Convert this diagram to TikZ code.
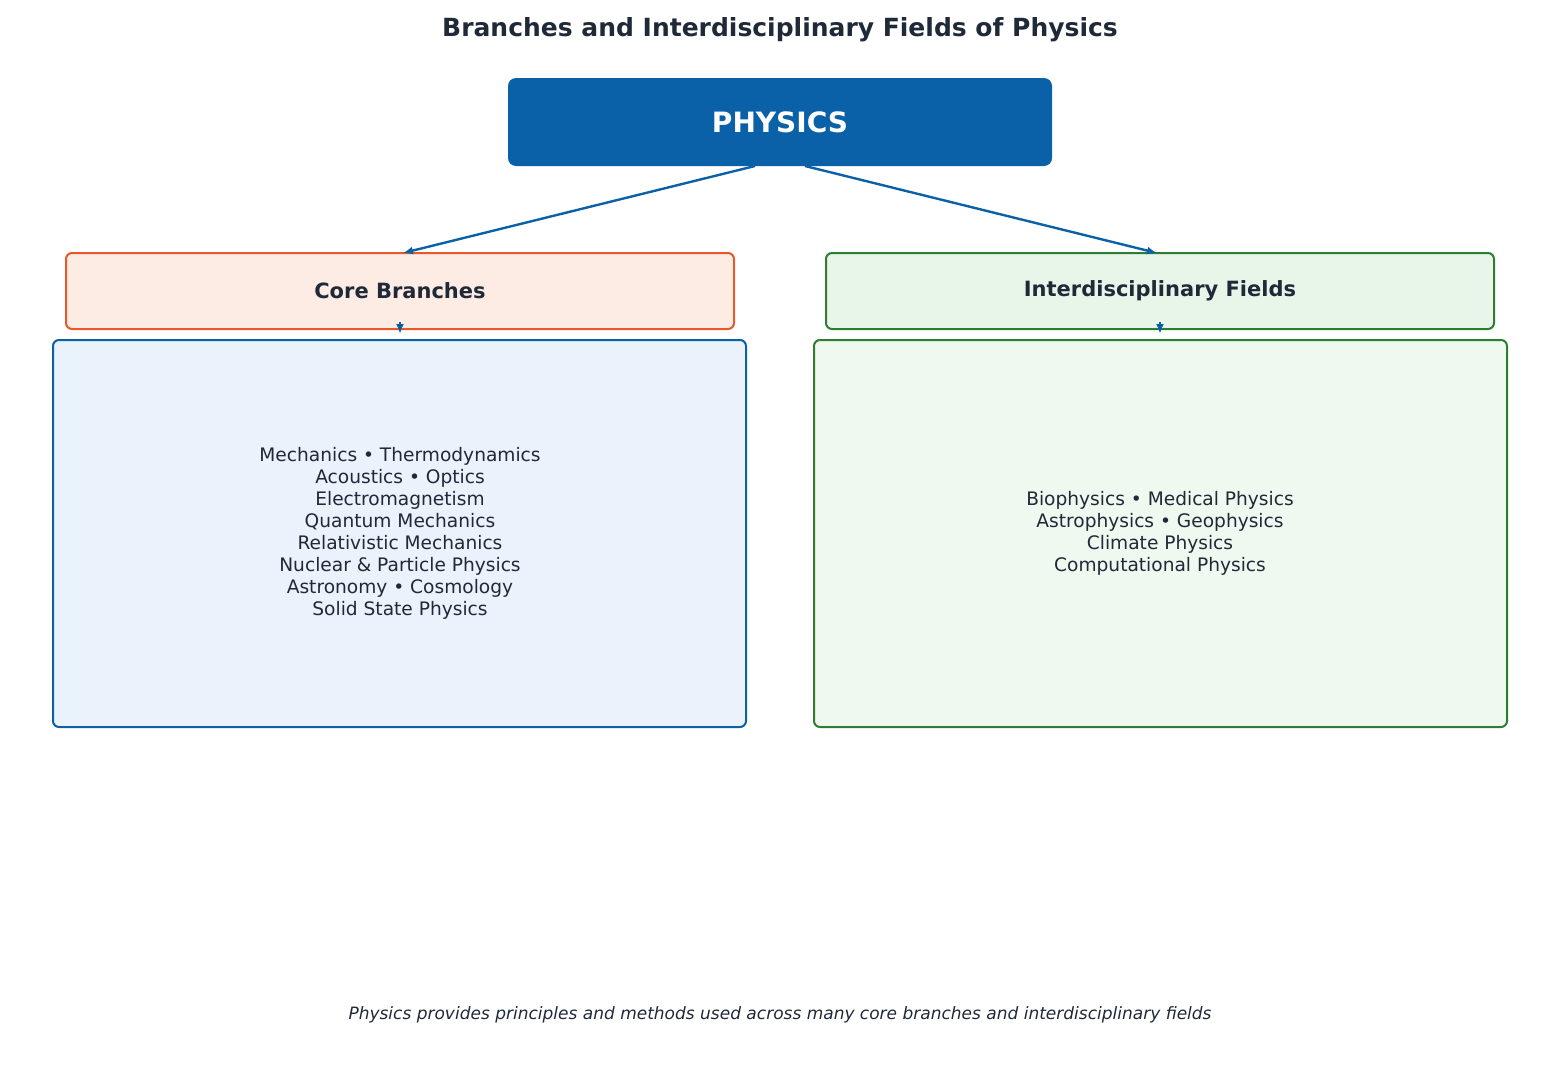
\documentclass[tikz,border=0pt]{standalone}
\usepackage{fontspec}
\setmainfont{DejaVu Sans}
\usetikzlibrary{arrows.meta}
\definecolor{navy}{HTML}{0B61A8}
\definecolor{txt}{HTML}{1F2937}
\definecolor{orng}{HTML}{E8582A}
\definecolor{orbg}{HTML}{FDECE4}
\definecolor{grn}{HTML}{2E7D32}
\definecolor{grbg}{HTML}{E8F5E9}
\definecolor{grbg2}{HTML}{F0F9F0}
\definecolor{blbg}{HTML}{EAF2FB}
\begin{document}
\begin{tikzpicture}[x=0.5pt,y=-0.5pt,
 box/.style={draw,line width=1pt,rounded corners=3pt},
 arr/.style={draw=navy,line width=1.2pt,-{Latex[length=5pt,width=4pt]}},
 body/.style={text=txt,font=\fontsize{9.3}{11}\selectfont,align=center}]
\useasboundingbox (0,0) rectangle (1560,1092);
\node[text=txt,font=\bfseries\fontsize{12.5}{15}\selectfont] (title) at (780,30) {Branches and Interdisciplinary Fields of Physics};
\fill[navy,rounded corners=4pt] (508,78) rectangle (1052,166);
\node[text=white,font=\bfseries\fontsize{14}{17}\selectfont] (phys) at (780,122) {PHYSICS};
\draw[box,draw=orng,fill=orbg] (66,253) rectangle (734,329);
\node[text=txt,font=\bfseries\fontsize{10.5}{13}\selectfont] (core) at (400,291) {Core Branches};
\draw[box,draw=grn,fill=grbg] (826,253) rectangle (1494,329);
\node[text=txt,font=\bfseries\fontsize{10.5}{13}\selectfont] (inter) at (1160,291) {Interdisciplinary Fields};
\draw[box,draw=navy,fill=blbg] (53,340) rectangle (746,727);
\node[body] (corel) at (400,533) {Mechanics • Thermodynamics\\Acoustics • Optics\\Electromagnetism\\Quantum Mechanics\\Relativistic Mechanics\\Nuclear \& Particle Physics\\Astronomy • Cosmology\\Solid State Physics};
\draw[box,draw=grn,fill=grbg2] (814,340) rectangle (1507,727);
\node[body] (interl) at (1160,533) {Biophysics • Medical Physics\\Astrophysics • Geophysics\\Climate Physics\\Computational Physics};
\coordinate (p1) at (755,166); \coordinate (p2) at (805,166);
\coordinate (c1) at (403,253); \coordinate (c2) at (1157,253);
\draw[arr] (p1) -- (c1);
\draw[arr] (p2) -- (c2);
\coordinate (s1) at (400,322); \coordinate (e1) at (400,334);
\coordinate (s2) at (1160,322); \coordinate (e2) at (1160,334);
\draw[arr] (s1) -- (e1);
\draw[arr] (s2) -- (e2);
\node[text=txt,font=\itshape\fontsize{8.5}{10}\selectfont] (cap) at (780,1015) {Physics provides principles and methods used across many core branches and interdisciplinary fields};
\end{tikzpicture}
\end{document}
